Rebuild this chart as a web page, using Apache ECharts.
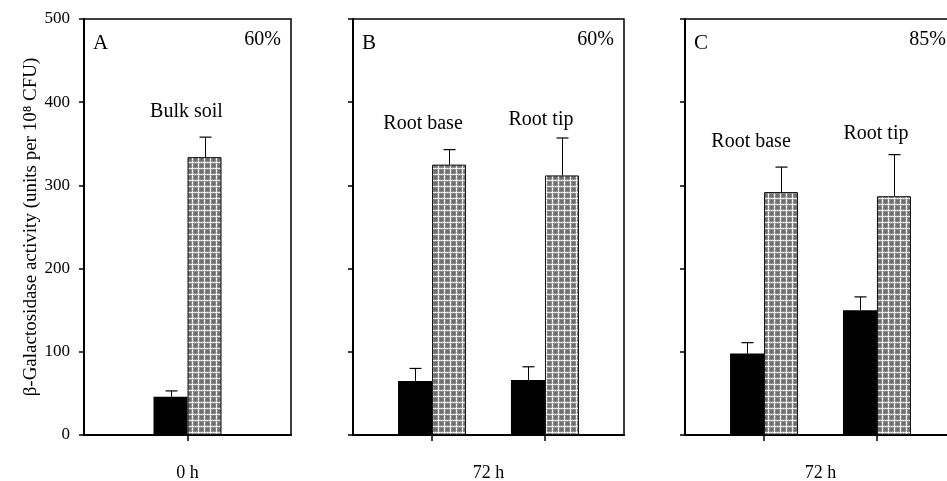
<!DOCTYPE html>
<html>
<head>
<meta charset="utf-8">
<script src="https://cdn.jsdelivr.net/npm/echarts@6/dist/echarts.min.js"></script>
<style>
html,body{margin:0;padding:0;background:#fff}
#main{width:947px;height:481px}
</style>
</head>
<body>
<div id="main"></div>
<script>
// values (units per 10^8 CFU)
var panelNames = ['A', 'B', 'C'];
var moisture = ['60%', '60%', '85%'];
var timeLabels = ['0 h', '72 h', '72 h'];
var yTicks = [0, 100, 200, 300, 400, 500];

var sitesA = ['Bulk soil'];
var sitesB = ['Root base', 'Root tip'];
var sitesC = ['Root base', 'Root tip'];

var solidA = [46],        solidErrA = [7];
var stippleA = [334],     stippleErrA = [24];
var solidB = [65, 66],    solidErrB = [15, 16];
var stippleB = [325, 312], stippleErrB = [18, 45];
var solidC = [98, 150],   solidErrC = [13, 16];
var stippleC = [292, 287], stippleErrC = [30, 50];

// where the site captions sit (y in data units)
var labelAtA = [388];
var labelAtB = [374, 379];
var labelAtC = [353, 362];

var FONT = '"Liberation Serif", "Times New Roman", serif';
var BAR_W = 34;

var panels = [
	{left: 84,  width: 207, slots: 1,  at: [0],    sites: sitesA, solid: solidA, solidErr: solidErrA, stip: stippleA, stipErr: stippleErrA, labelAt: labelAtA, dx: [-1]},
	{left: 353, width: 271, slots: 12, at: [3, 8], sites: sitesB, solid: solidB, solidErr: solidErrB, stip: stippleB, stipErr: stippleErrB, labelAt: labelAtB, dx: [-9, -4]},
	{left: 685, width: 271, slots: 12, at: [3, 8], sites: sitesC, solid: solidC, solidErr: solidErrC, stip: stippleC, stipErr: stippleErrC, labelAt: labelAtC, dx: [-13, -1]}
];
var TOP = 19, HEIGHT = 416;

function stipplePattern() {
	// grey blobs split by broken white lines, like the halftone in the scan
	var c = document.createElement('canvas');
	c.width = 6; c.height = 6;
	var g = c.getContext('2d');
	g.fillStyle = '#8a8a8a';
	g.fillRect(0, 0, 6, 6);
	g.fillStyle = '#6e6e6e';
	g.fillRect(2, 2, 3, 3);
	g.fillStyle = '#ffffff';
	[[0, 0], [1, 0], [3, 0], [5, 0], [0, 2], [0, 3], [0, 5]].forEach(function (q) {
		g.fillRect(q[0], q[1], 1, 1);
	});
	g.fillStyle = '#cfcfcf';
	[[2, 0], [4, 0], [0, 1], [0, 4]].forEach(function (q) {
		g.fillRect(q[0], q[1], 1, 1);
	});
	return c;
}
var pattern = {image: stipplePattern(), repeat: 'repeat'};

var myChart = echarts.init(document.getElementById('main'), null, {renderer: 'canvas'});

var grid = [], xAxis = [], yAxis = [], series = [], graphic = [];

panels.forEach(function (p, i) {
	grid.push({
		left: p.left, top: TOP, width: p.width, height: HEIGHT,
		containLabel: false, outerBoundsMode: 'none',
		show: true, borderColor: '#000', borderWidth: 1.5, backgroundColor: 'transparent'
	});

	var cats = [];
	for (var k = 0; k < p.slots; k++) cats.push('s' + k);

	xAxis.push({
		gridIndex: i, type: 'category', data: cats, boundaryGap: true,
		axisLine: {lineStyle: {color: '#000', width: 2}},
		axisTick: {
			show: true, alignWithLabel: true, length: 6, inside: false,
			interval: function (idx) { return p.at.indexOf(idx) >= 0; },
			lineStyle: {color: '#000', width: 1.5}
		},
		axisLabel: {show: false},
		splitLine: {show: false},
		name: timeLabels[i], nameLocation: 'middle', nameGap: 29,
		nameTextStyle: {fontFamily: FONT, fontSize: 18, color: '#000'}
	});

	yAxis.push({
		gridIndex: i, type: 'value', min: yTicks[0], max: yTicks[yTicks.length - 1], interval: 100,
		axisLine: {show: true, lineStyle: {color: '#000', width: 2}},
		axisTick: {show: true, length: 5, lineStyle: {color: '#000', width: 1.5}},
		axisLabel: {show: i === 0, fontFamily: FONT, fontSize: 17, color: '#000', margin: 14},
		splitLine: {show: false},
		name: i === 0 ? '\u03b2-Galactosidase activity (units per 10\u2078 CFU)' : '',
		nameLocation: 'middle', nameGap: 43,
		nameTextStyle: {fontFamily: FONT, fontSize: 19, color: '#000'}
	});

	var solidData = [], stipData = [];
	for (var k = 0; k < p.slots; k++) { solidData.push(null); stipData.push(null); }
	var errData = [], capData = [];
	p.at.forEach(function (slot, j) {
		solidData[slot] = p.solid[j];
		stipData[slot] = p.stip[j];
		errData.push([slot, p.solid[j], p.solidErr[j], -1]);
		errData.push([slot, p.stip[j], p.stipErr[j], 1]);
		capData.push({value: [slot, p.labelAt[j], p.dx[j]], name: p.sites[j]});
	});

	series.push({
		type: 'bar', name: 'solid', xAxisIndex: i, yAxisIndex: i, data: solidData,
		barWidth: BAR_W, barGap: '0%', silent: true,
		itemStyle: {color: '#000'}
	});
	series.push({
		type: 'bar', name: 'stippled', xAxisIndex: i, yAxisIndex: i, data: stipData,
		barWidth: BAR_W, barGap: '0%', silent: true,
		itemStyle: {color: pattern, borderColor: '#111', borderWidth: 1}
	});
	// error bars, only the upper half as in the figure
	series.push({
		type: 'custom', xAxisIndex: i, yAxisIndex: i, data: errData, silent: true, z: 5,
		renderItem: function (params, api) {
			var base = api.coord([api.value(0), api.value(1)]);
			var top = api.coord([api.value(0), api.value(1) + api.value(2)]);
			var cx = Math.round(base[0] + api.value(3) * BAR_W / 2) + 0.5;
			return {
				type: 'group',
				children: [
					{type: 'line', shape: {x1: cx, y1: base[1], x2: cx, y2: top[1]}, style: {stroke: '#000', lineWidth: 1}},
					{type: 'line', shape: {x1: cx - 6, y1: top[1], x2: cx + 6, y2: top[1]}, style: {stroke: '#000', lineWidth: 1.2}}
				]
			};
		}
	});
	// site captions
	series.push({
		type: 'custom', xAxisIndex: i, yAxisIndex: i, data: capData, silent: true,
		renderItem: function (params, api) {
			var pt = api.coord([api.value(0), api.value(1)]);
			return {
				type: 'text', x: pt[0] + api.value(2), y: pt[1],
				style: {text: p.sites[params.dataIndex], align: 'center', verticalAlign: 'middle',
					font: '20px ' + FONT, fill: '#000'}
			};
		}
	});

	graphic.push({
		type: 'text', left: p.left + 9, top: 33,
		style: {text: panelNames[i], font: '21px ' + FONT, fill: '#000'}
	});
	graphic.push({
		type: 'text', x: p.left + p.width - 10, y: 40,
		style: {text: moisture[i], font: '20px ' + FONT, fill: '#000', align: 'right', verticalAlign: 'middle'}
	});
});

myChart.setOption({
	animation: false,
	backgroundColor: '#fff',
	grid: grid,
	xAxis: xAxis,
	yAxis: yAxis,
	series: series,
	graphic: graphic
});
window.onresize = myChart.resize;
</script>
</body>
</html>
